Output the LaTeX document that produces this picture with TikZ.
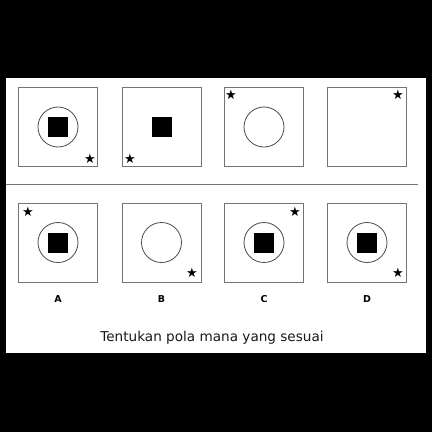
\documentclass[tikz,border=0pt]{standalone}
\usepackage{fontspec}
\setmainfont{DejaVu Sans}
\begin{document}
\begin{tikzpicture}[x=1pt,y=-1pt,
  frame/.style={draw=black!55,line width=0.9pt,minimum size=79pt,inner sep=0pt},
  ring/.style={draw=black!70,line width=0.8pt,circle,minimum size=40pt,inner sep=0pt},
  blk/.style={fill=black,minimum size=20pt,inner sep=0pt},
  starmark/.style={inner sep=0pt,font=\fontsize{13}{13}\selectfont},
  lbl/.style={font=\bfseries\fontsize{9.5}{10}\selectfont},
  ]
\fill[black] (0,0) rectangle (432,432);
\fill[white] (6,78) rectangle (426,353);
\useasboundingbox (0,0) rectangle (432,432);
% top row
\node[frame] (t1) at (58,127) {};
\node[ring] (t1c) at (58,127) {};
\node[blk] (t1s) at (58,127) {};
\node[starmark] (t1st) at (90,159) {★};
\node[frame] (t2) at (161.5,127) {};
\node[blk] (t2s) at (161.5,127) {};
\node[starmark] (t2st) at (130,159) {★};
\node[frame] (t3) at (264,127) {};
\node[ring] (t3c) at (264,127) {};
\node[starmark] (t3st) at (231,95) {★};
\node[frame] (t4) at (367,127) {};
\node[starmark] (t4st) at (398,95) {★};
% separator
\coordinate (sepL) at (6,184);
\coordinate (sepR) at (418,184);
\draw[black!55,line width=0.9pt] (sepL) -- (sepR);
% bottom row
\node[frame] (b1) at (58,242.5) {};
\node[ring] (b1c) at (58,242.5) {};
\node[blk] (b1s) at (58,242.5) {};
\node[starmark] (b1st) at (28,212) {★};
\node[frame] (b2) at (161.5,242.5) {};
\node[ring] (b2c) at (161.5,242.5) {};
\node[starmark] (b2st) at (192,273) {★};
\node[frame] (b3) at (264,242.5) {};
\node[ring] (b3c) at (264,242.5) {};
\node[blk] (b3s) at (264,242.5) {};
\node[starmark] (b3st) at (295,212) {★};
\node[frame] (b4) at (367,242.5) {};
\node[ring] (b4c) at (367,242.5) {};
\node[blk] (b4s) at (367,242.5) {};
\node[starmark] (b4st) at (398,273) {★};
% labels
\node[lbl] (la) at (58,299) {A};
\node[lbl] (lb) at (161.5,299) {B};
\node[lbl] (lc) at (264,299) {C};
\node[lbl] (ld) at (367,299) {D};
\node[font=\fontsize{13.6}{14}\selectfont,text=black!90] (q) at (212,338) {Tentukan pola mana yang sesuai};
\end{tikzpicture}
\end{document}
